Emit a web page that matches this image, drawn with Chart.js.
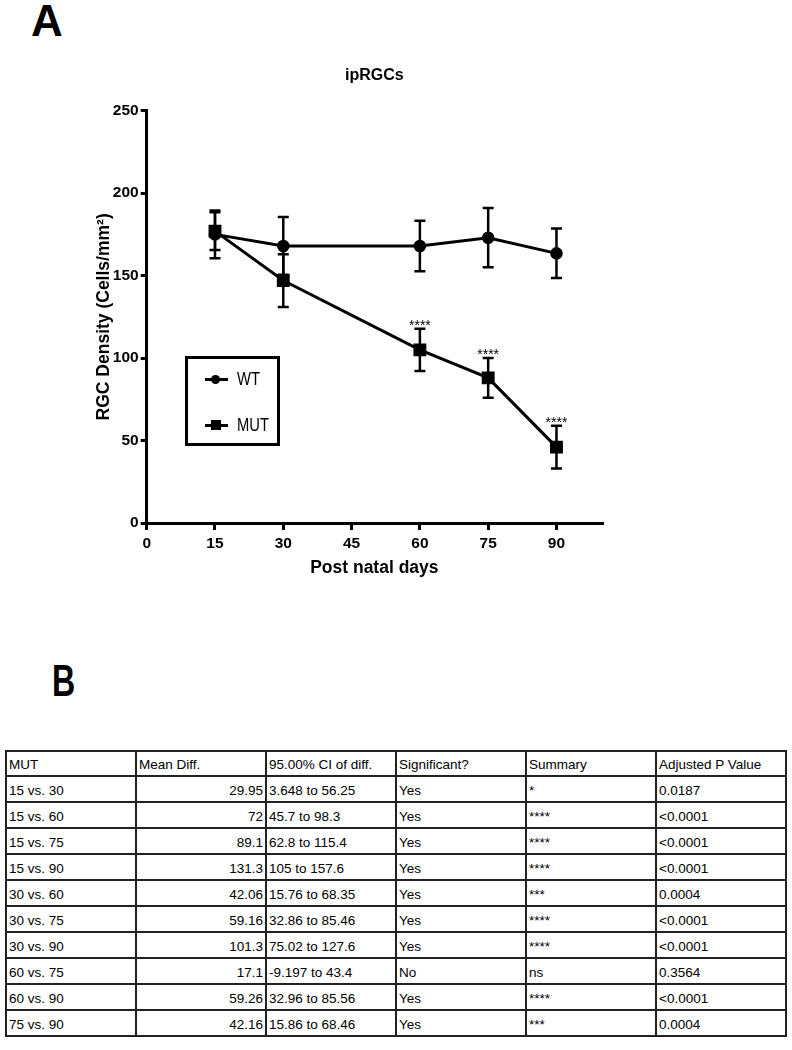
<!DOCTYPE html>
<html>
<head>
<meta charset="utf-8">
<script src="https://cdn.jsdelivr.net/npm/chart.js@4.4.0/dist/chart.umd.min.js"></script>
<style>
  body { margin: 0; background: #fff; width: 792px; height: 1050px; position: relative; font-family: "Liberation Sans", Arial, sans-serif; }
  .panel-label { position: absolute; font-weight: bold; color: #000; line-height: 1; }
  #labelA { left: 31px; top: -1px; font-size: 44px; }
  #labelB { left: 52px; top: 659px; font-size: 44px; transform: scaleX(0.73); transform-origin: left top; }
  #chartBox { position: absolute; left: 0; top: 50px; width: 720px; height: 540px; }
  #legend { position: absolute; left: 185px; top: 356px; width: 89px; height: 84px; border: 3px solid #000; }
  .leg-item { position: absolute; left: 17px; height: 20px; width: 80px; }
  .leg-line { position: absolute; left: 0; top: 9px; width: 23px; height: 3px; background: #000; }
  .leg-dot { position: absolute; left: 6px; top: 6px; width: 9px; height: 9px; border-radius: 50%; background: #000; }
  .leg-sq { position: absolute; left: 6px; top: 5px; width: 10px; height: 10px; background: #000; }
  .leg-text { position: absolute; left: 32px; top: 0; font-size: 18px; line-height: 20px; color: #000; transform: scaleX(0.82); transform-origin: left center; }
  table { position: absolute; left: 5px; top: 750px; width: 782px; border-collapse: collapse; table-layout: fixed; font-size: 13.5px; color: #000; }
  td { border: 2px solid #222; padding: 2px 2px 0 2px; height: 22px; white-space: nowrap; overflow: hidden; }
  tr:first-child td { height: 21px; }
  td.num { text-align: right; }
</style>
</head>
<body>
<div class="panel-label" id="labelA">A</div>
<div class="panel-label" id="labelB">B</div>

<div id="chartBox"><canvas id="rgcChart"></canvas></div>

<div id="legend">
  <div class="leg-item" style="top: 10px;"><div class="leg-line"></div><div class="leg-dot"></div><div class="leg-text">WT</div></div>
  <div class="leg-item" style="top: 56px;"><div class="leg-line"></div><div class="leg-sq"></div><div class="leg-text">MUT</div></div>
</div>

<table id="statsTable"></table>

<script>
// chart data
const days = [15, 30, 60, 75, 90];
const wtMean = [175, 168, 168, 173, 163.5];
const wtErr = [14.5, 17.5, 15.3, 18, 15];
const mutMean = [177, 147, 105, 88, 46];
const mutErr = [11.5, 16, 12.8, 12, 13];
const mutSig = ["", "", "****", "****", "****"];
const yTicks = [0, 50, 100, 150, 200, 250];
const xTicks = [0, 15, 30, 45, 60, 75, 90];

// table data
const tableHeader = ["MUT", "Mean Diff.", "95.00% CI of diff.", "Significant?", "Summary", "Adjusted P Value"];
const comparisons = ["15 vs. 30", "15 vs. 60", "15 vs. 75", "15 vs. 90", "30 vs. 60", "30 vs. 75", "30 vs. 90", "60 vs. 75", "60 vs. 90", "75 vs. 90"];
const meanDiff = ["29.95", "72", "89.1", "131.3", "42.06", "59.16", "101.3", "17.1", "59.26", "42.16"];
const ciDiff = ["3.648 to 56.25", "45.7 to 98.3", "62.8 to 115.4", "105 to 157.6", "15.76 to 68.35", "32.86 to 85.46", "75.02 to 127.6", "-9.197 to 43.4", "32.96 to 85.56", "15.86 to 68.46"];
const significant = ["Yes", "Yes", "Yes", "Yes", "Yes", "Yes", "Yes", "No", "Yes", "Yes"];
const summary = ["*", "****", "****", "****", "***", "****", "****", "ns", "****", "***"];
const pValues = ["0.0187", "<0.0001", "<0.0001", "<0.0001", "0.0004", "<0.0001", "<0.0001", "0.3564", "<0.0001", "0.0004"];

document.addEventListener("DOMContentLoaded", function () {
  const table = document.getElementById("statsTable");
  const headRow = table.insertRow();
  tableHeader.forEach((h) => {
    headRow.insertCell().textContent = h;
  });
  comparisons.forEach((c, i) => {
    const row = table.insertRow();
    row.insertCell().textContent = c;
    const md = row.insertCell();
    md.textContent = meanDiff[i];
    md.className = "num";
    row.insertCell().textContent = ciDiff[i];
    row.insertCell().textContent = significant[i];
    row.insertCell().textContent = summary[i];
    row.insertCell().textContent = pValues[i];
  });

  // error bars and significance stars, drawn through the chart scales
  const errorBars = {
    id: "errorBars",
    beforeDatasetsDraw(chart) {
      const ctx = chart.ctx;
      const xs = chart.scales.x;
      const ys = chart.scales.y;
      const sets = [
        { mean: wtMean, err: wtErr },
        { mean: mutMean, err: mutErr },
      ];
      ctx.save();
      ctx.strokeStyle = "#000";
      ctx.lineWidth = 2.5;
      sets.forEach((s) => {
        days.forEach((d, i) => {
          const px = xs.getPixelForValue(d);
          const top = ys.getPixelForValue(s.mean[i] + s.err[i]);
          const bot = ys.getPixelForValue(s.mean[i] - s.err[i]);
          ctx.beginPath();
          ctx.moveTo(px, top);
          ctx.lineTo(px, bot);
          ctx.moveTo(px - 5.5, top);
          ctx.lineTo(px + 5.5, top);
          ctx.moveTo(px - 5.5, bot);
          ctx.lineTo(px + 5.5, bot);
          ctx.stroke();
        });
      });
      ctx.restore();
    },
    afterDatasetsDraw(chart) {
      const ctx = chart.ctx;
      const xs = chart.scales.x;
      const ys = chart.scales.y;
      ctx.save();
      ctx.fillStyle = "#000";
      ctx.font = "14px 'Liberation Sans', Arial, sans-serif";
      ctx.textAlign = "center";
      ctx.textBaseline = "bottom";
      days.forEach((d, i) => {
        if (!mutSig[i]) return;
        const px = xs.getPixelForValue(d);
        const top = ys.getPixelForValue(mutMean[i] + mutErr[i]);
        ctx.fillText(mutSig[i], px, top + 4);
      });
      ctx.restore();
    },
  };

  const ctx = document.getElementById("rgcChart").getContext("2d");
  const rgcChart = new Chart(ctx, {
    type: "line",
    data: {
      datasets: [
        {
          label: "WT",
          data: days.map((d, i) => ({ x: d, y: wtMean[i] })),
          borderColor: "#000",
          backgroundColor: "#000",
          borderWidth: 3,
          pointStyle: "circle",
          pointRadius: 4.8,
          pointHoverRadius: 4.8,
          fill: false,
          tension: 0,
        },
        {
          label: "MUT",
          data: days.map((d, i) => ({ x: d, y: mutMean[i] })),
          borderColor: "#000",
          backgroundColor: "#000",
          borderWidth: 3,
          pointStyle: "rect",
          pointRadius: 7,
          pointHoverRadius: 7,
          fill: false,
          tension: 0,
        },
      ],
    },
    options: {
      responsive: true,
      maintainAspectRatio: false,
      animation: false,
      layout: {
        padding: { left: 0, right: 118, top: 0, bottom: 0 },
      },
      scales: {
        x: {
          type: "linear",
          min: 0,
          max: 100,
          afterBuildTicks: (axis) => {
            axis.ticks = xTicks.map((v) => ({ value: v }));
          },
          afterFit: (axis) => {
            axis.height = 67;
          },
          border: { display: true, color: "#000", width: 3 },
          grid: { drawOnChartArea: false, drawTicks: true, tickLength: 7, color: "#000", lineWidth: 3 },
          ticks: {
            color: "#000",
            padding: 4,
            maxRotation: 0,
            font: { family: "'Liberation Sans', Arial, sans-serif", size: 15.5, weight: "bold" },
          },
          title: {
            display: true,
            text: "Post natal days",
            color: "#000",
            padding: { top: 0, bottom: 11 },
            font: { family: "'Liberation Sans', Arial, sans-serif", size: 17.5, weight: "bold" },
          },
        },
        y: {
          min: 0,
          max: 250,
          afterBuildTicks: (axis) => {
            axis.ticks = yTicks.map((v) => ({ value: v }));
          },
          afterFit: (axis) => {
            axis.width = 146.7;
          },
          border: { display: true, color: "#000", width: 3 },
          grid: { drawOnChartArea: false, drawTicks: true, tickLength: 6, color: "#000", lineWidth: 3 },
          ticks: {
            color: "#000",
            padding: 2,
            font: { family: "'Liberation Sans', Arial, sans-serif", size: 15.5, weight: "bold" },
          },
          title: {
            display: true,
            text: "RGC Density (Cells/mm²)",
            color: "#000",
            padding: { top: 94, bottom: 0 },
            font: { family: "'Liberation Sans', Arial, sans-serif", size: 17.5, weight: "bold" },
          },
        },
      },
      plugins: {
        legend: { display: false },
        tooltip: { enabled: false },
        title: {
          display: true,
          text: "ipRGCs",
          color: "#000",
          fullSize: false,
          padding: { top: 16, bottom: 25.5 },
          font: { family: "'Liberation Sans', Arial, sans-serif", size: 16, weight: "bold" },
        },
      },
    },
    plugins: [errorBars],
  });
});
</script>
</body>
</html>
